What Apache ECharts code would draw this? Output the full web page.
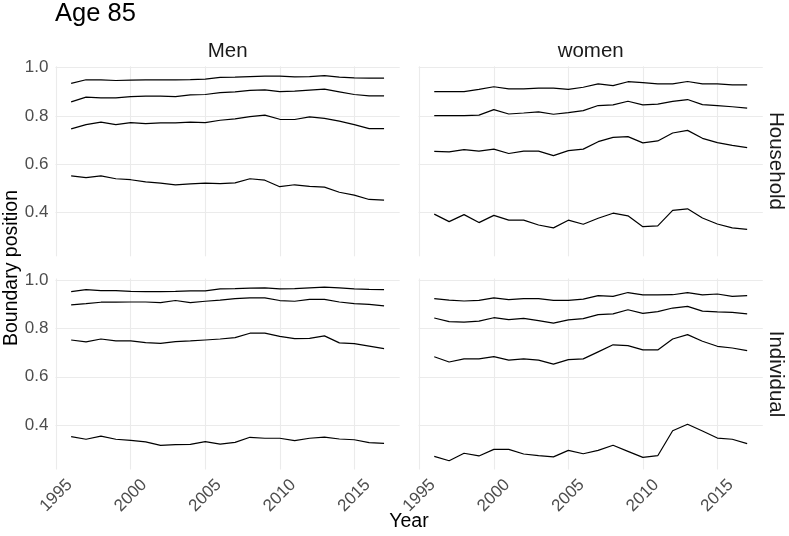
<!DOCTYPE html>
<html>
<head>
<meta charset="utf-8">
<script src="https://cdn.jsdelivr.net/npm/echarts@6/dist/echarts.min.js"></script>
<style>
html,body{margin:0;padding:0;background:#fff;}
#c{width:789px;height:536px;}
</style>
</head>
<body>
<div id="c"></div>
<script>
const years = [1996,1997,1998,1999,2000,2001,2002,2003,2004,2005,2006,2007,2008,2009,2010,2011,2012,2013,2014,2015,2016,2017];
const xTicks = [1995,2000,2005,2010,2015];
const yTicks = [0.4,0.6,0.8,1.0];
const sexes = ['Men','women'];
const units = ['Household','Individual'];

const menHousehold = [
  [0.935,0.950,0.950,0.947,0.949,0.950,0.950,0.950,0.951,0.953,0.960,0.961,0.963,0.965,0.965,0.962,0.963,0.967,0.961,0.958,0.957,0.957],
  [0.858,0.878,0.875,0.875,0.880,0.882,0.882,0.880,0.887,0.889,0.897,0.900,0.906,0.908,0.901,0.903,0.907,0.911,0.900,0.889,0.883,0.883],
  [0.746,0.764,0.774,0.764,0.772,0.768,0.771,0.771,0.774,0.772,0.782,0.788,0.797,0.803,0.786,0.785,0.796,0.790,0.778,0.764,0.747,0.747],
  [0.551,0.544,0.551,0.539,0.535,0.526,0.521,0.514,0.518,0.521,0.519,0.522,0.539,0.533,0.506,0.514,0.507,0.504,0.483,0.471,0.453,0.450]
];
const womenHousehold = [
  [0.901,0.901,0.901,0.910,0.921,0.912,0.912,0.915,0.915,0.910,0.919,0.933,0.926,0.942,0.938,0.933,0.933,0.943,0.933,0.933,0.929,0.929],
  [0.801,0.801,0.801,0.803,0.826,0.808,0.812,0.817,0.807,0.814,0.822,0.843,0.846,0.861,0.846,0.849,0.860,0.868,0.847,0.843,0.838,0.832],
  [0.653,0.651,0.660,0.654,0.662,0.644,0.654,0.654,0.635,0.656,0.662,0.693,0.711,0.714,0.688,0.696,0.729,0.740,0.707,0.689,0.678,0.668],
  [0.392,0.361,0.390,0.357,0.387,0.367,0.367,0.347,0.335,0.367,0.350,0.375,0.396,0.385,0.340,0.343,0.408,0.414,0.376,0.351,0.335,0.329]
];
const menIndividual = [
  [0.952,0.960,0.956,0.956,0.953,0.952,0.952,0.953,0.955,0.955,0.963,0.964,0.966,0.967,0.963,0.964,0.967,0.970,0.967,0.963,0.961,0.960],
  [0.897,0.902,0.908,0.908,0.909,0.909,0.906,0.915,0.906,0.912,0.917,0.923,0.926,0.926,0.915,0.912,0.920,0.920,0.909,0.902,0.899,0.893],
  [0.752,0.744,0.756,0.748,0.748,0.741,0.738,0.745,0.748,0.752,0.756,0.762,0.780,0.780,0.767,0.758,0.759,0.769,0.740,0.737,0.727,0.716],
  [0.353,0.342,0.355,0.342,0.337,0.331,0.317,0.320,0.321,0.332,0.322,0.329,0.350,0.346,0.346,0.336,0.346,0.351,0.343,0.340,0.328,0.325]
];
const womenIndividual = [
  [0.923,0.917,0.913,0.916,0.926,0.919,0.923,0.923,0.916,0.916,0.921,0.935,0.932,0.948,0.938,0.938,0.939,0.948,0.938,0.942,0.932,0.935],
  [0.843,0.828,0.826,0.830,0.844,0.836,0.841,0.832,0.822,0.835,0.840,0.857,0.860,0.877,0.862,0.869,0.884,0.891,0.871,0.868,0.866,0.860],
  [0.683,0.661,0.674,0.674,0.683,0.669,0.674,0.669,0.652,0.671,0.674,0.703,0.732,0.729,0.711,0.711,0.756,0.774,0.747,0.726,0.719,0.708],
  [0.271,0.253,0.284,0.273,0.300,0.300,0.281,0.274,0.269,0.296,0.282,0.296,0.317,0.292,0.267,0.274,0.377,0.404,0.376,0.347,0.342,0.324]
];

const panels = [menHousehold, womenHousehold, menIndividual, womenIndividual];
const chart = echarts.init(document.getElementById('c'), null, {renderer: 'canvas'});

const gridPos = [
  {left: 55.5, top: 66.3, width: 344.2, height: 190},
  {left: 418.6, top: 66.3, width: 344.2, height: 190},
  {left: 55.5, top: 278.5, width: 344.2, height: 191},
  {left: 418.6, top: 278.5, width: 344.2, height: 191}
];
const font = 'Liberation Sans, Arial, sans-serif';
const grids = gridPos.map(g => Object.assign({containLabel: false, show: false}, g));
const gridColor = '#ebebeb';
const xAxes = gridPos.map((g, i) => ({
  type: 'value', gridIndex: i, min: 1994.95, max: 2018.05,
  axisLine: {show: false},
  axisTick: {show: false, customValues: xTicks},
  splitLine: {show: true, lineStyle: {color: gridColor, width: 1.1}},
  axisLabel: {show: i >= 2, customValues: xTicks, rotate: 45, fontSize: 17, color: '#4d4d4d', margin: 26,
    align: 'center', verticalAlign: 'middle',
    fontFamily: font, formatter: v => String(v)}
}));
const yAxes = gridPos.map((g, i) => ({
  type: 'value', gridIndex: i, min: 0.217, max: 1.006,
  axisLine: {show: false},
  axisTick: {show: false, customValues: yTicks},
  splitLine: {show: true, lineStyle: {color: gridColor, width: 1.1}},
  axisLabel: {show: i % 2 === 0, customValues: yTicks, fontSize: 17, color: '#4d4d4d', margin: 7,
    fontFamily: font, formatter: v => v.toFixed(1)}
}));
const series = [];
panels.forEach((lines, p) => {
  lines.forEach(vals => {
    series.push({
      type: 'line', xAxisIndex: p, yAxisIndex: p, symbol: 'none', silent: true,
      lineStyle: {color: '#000', width: 1.2},
      data: years.map((y, k) => [y, vals[k]])
    });
  });
});
const graphics = [
  {type: 'text', x: 55, y: 14, style: {text: 'Age 85', font: '25.5px ' + font, fill: '#000', align: 'left', verticalAlign: 'middle'}},
  {type: 'text', x: 227.6, y: 51, style: {text: sexes[0], font: '20.5px ' + font, fill: '#1a1a1a', align: 'center', verticalAlign: 'middle'}},
  {type: 'text', x: 590.7, y: 51, style: {text: sexes[1], font: '20.5px ' + font, fill: '#1a1a1a', align: 'center', verticalAlign: 'middle'}},
  {type: 'text', x: 776, y: 161, rotation: -Math.PI / 2, style: {text: units[0], font: '20.5px ' + font, fill: '#1a1a1a', align: 'center', verticalAlign: 'middle'}},
  {type: 'text', x: 776, y: 374, rotation: -Math.PI / 2, style: {text: units[1], font: '20.5px ' + font, fill: '#1a1a1a', align: 'center', verticalAlign: 'middle'}},
  {type: 'text', x: 409, y: 522, style: {text: 'Year', font: '19.5px ' + font, fill: '#000', align: 'center', verticalAlign: 'middle'}},
  {type: 'text', x: 12, y: 268, rotation: Math.PI / 2, style: {text: 'Boundary position', font: '19.5px ' + font, fill: '#000', align: 'center', verticalAlign: 'middle'}}
];
chart.setOption({
  animation: false,
  backgroundColor: '#fff',
  grid: grids,
  xAxis: xAxes,
  yAxis: yAxes,
  series: series,
  graphic: graphics
});
</script>
</body>
</html>
